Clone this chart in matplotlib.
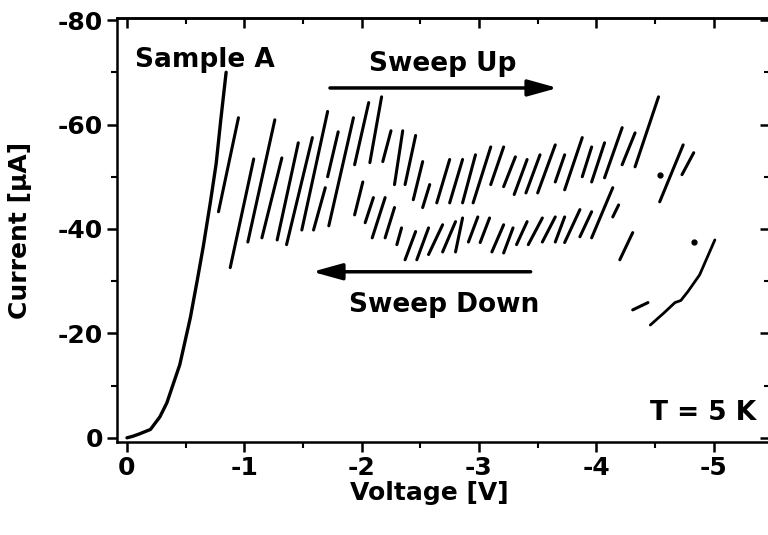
import matplotlib
matplotlib.use('agg')
import matplotlib.pyplot as plt
from matplotlib.ticker import MultipleLocator

plt.rcParams['font.family'] = ['DejaVu Sans']
plt.rcParams['font.weight'] = 'bold'
plt.rcParams['axes.unicode_minus'] = False

# main I-V curve of sample A (V in volts, I in microamps)
curve_v = [0.0, -0.05, -0.10, -0.20, -0.28, -0.34, -0.45, -0.54, -0.60, -0.65, -0.71, -0.76, -0.80, -0.845]
curve_i = [0.0, -0.3, -0.7, -1.6, -4.0, -6.7, -14.0, -23.0, -30.3, -36.6, -45.0, -52.5, -61.0, -70.0]

# switching branches, each as (V start, I start, V end, I end)
upper_segments = [
    (-0.78, -43.3, -0.95, -61.3),
    (-0.88, -32.6, -1.08, -53.4),
    (-1.03, -37.5, -1.26, -60.9),
    (-1.15, -38.3, -1.32, -53.6),
    (-1.28, -37.9, -1.46, -56.5),
    (-1.36, -37.0, -1.58, -57.5),
    (-1.49, -39.8, -1.71, -62.5),
    (-1.71, -50.0, -1.80, -58.6),
    (-1.72, -40.6, -1.93, -61.3),
    (-1.94, -52.3, -2.06, -64.2),
    (-2.07, -52.7, -2.17, -65.3),
    (-2.18, -52.9, -2.25, -58.8),
    (-2.28, -48.5, -2.35, -58.8),
    (-2.37, -48.5, -2.46, -57.9),
    (-2.44, -45.6, -2.52, -52.9),
    (-2.52, -44.1, -2.58, -48.5),
    (-2.64, -45.0, -2.75, -53.3),
    (-2.75, -45.0, -2.86, -53.3),
    (-2.86, -45.0, -2.97, -54.2),
    (-2.95, -45.0, -3.10, -55.7),
    (-3.10, -48.5, -3.21, -55.7),
    (-3.21, -48.1, -3.31, -53.8),
    (-3.30, -46.6, -3.41, -53.3),
    (-3.40, -46.9, -3.52, -54.2),
    (-3.50, -46.9, -3.65, -56.1),
    (-3.65, -49.0, -3.73, -54.2),
    (-3.73, -47.5, -3.88, -57.5),
    (-3.88, -50.0, -3.96, -55.7),
    (-3.96, -49.0, -4.07, -56.5),
    (-4.07, -49.8, -4.22, -59.4),
    (-4.22, -52.3, -4.33, -58.4),
    (-4.33, -51.9, -4.53, -65.3),
    (-4.54, -45.2, -4.74, -56.1),
    (-4.73, -50.4, -4.83, -54.6),
]

lower_segments = [
    (-1.59, -39.8, -1.69, -47.9),
    (-1.94, -42.7, -2.01, -49.0),
    (-2.03, -41.2, -2.10, -46.0),
    (-2.09, -38.3, -2.20, -46.0),
    (-2.20, -38.3, -2.28, -44.1),
    (-2.30, -37.0, -2.34, -40.2),
    (-2.37, -34.1, -2.46, -39.5),
    (-2.47, -34.1, -2.57, -40.2),
    (-2.57, -35.1, -2.69, -40.8),
    (-2.69, -35.6, -2.80, -41.4),
    (-2.80, -35.6, -2.86, -42.1),
    (-2.91, -37.5, -2.99, -42.3),
    (-3.01, -37.4, -3.09, -42.1),
    (-3.11, -35.6, -3.21, -40.8),
    (-3.21, -35.4, -3.29, -40.2),
    (-3.32, -37.0, -3.41, -41.4),
    (-3.42, -37.0, -3.54, -42.1),
    (-3.54, -37.5, -3.65, -42.3),
    (-3.65, -37.5, -3.73, -42.3),
    (-3.73, -37.4, -3.86, -43.7),
    (-3.86, -38.5, -3.96, -43.3),
    (-3.96, -38.3, -4.14, -47.9),
    (-4.14, -42.3, -4.19, -44.6),
    (-4.20, -34.1, -4.31, -39.3),
    (-4.31, -24.5, -4.44, -25.9),
]

# last branch at high bias
tail_v = [-4.46, -4.58, -4.67, -4.72, -4.78, -4.88, -5.01]
tail_i = [-21.6, -24.0, -25.9, -26.3, -28.0, -31.2, -37.9]

dots_v = [-4.54, -4.83]
dots_i = [-50.4, -37.5]

fig = plt.figure(figsize=(7.68, 5.35), dpi=100)
ax = fig.add_axes([117 / 768, 93 / 535, 653 / 768, 424 / 535])

ax.plot(curve_v, curve_i, color='black', lw=2.4, solid_capstyle='round')
for v0, i0, v1, i1 in upper_segments + lower_segments:
    ax.plot([v0, v1], [i0, i1], color='black', lw=2.2, solid_capstyle='round')
ax.plot(tail_v, tail_i, color='black', lw=2.0, solid_capstyle='round')
ax.plot(dots_v, dots_i, 'o', color='black', ms=3.5)

ax.set_xlim(0.085, -5.48)
ax.set_ylim(0.8, -80.4)

ax.xaxis.set_major_locator(MultipleLocator(1))
ax.xaxis.set_minor_locator(MultipleLocator(0.5))
ax.yaxis.set_major_locator(MultipleLocator(20))
ax.yaxis.set_minor_locator(MultipleLocator(10))
ax.tick_params(which='major', direction='out', length=7, width=1.8, labelsize=18, pad=3)
ax.tick_params(which='minor', direction='out', length=4, width=1.5)

top = ax.secondary_xaxis('top')
top.xaxis.set_major_locator(MultipleLocator(1))
top.xaxis.set_minor_locator(MultipleLocator(0.5))
top.tick_params(which='major', direction='in', length=7, width=1.8, labeltop=False)
top.tick_params(which='minor', direction='in', length=4, width=1.5)
right = ax.secondary_yaxis('right')
right.yaxis.set_major_locator(MultipleLocator(20))
right.yaxis.set_minor_locator(MultipleLocator(10))
right.tick_params(which='major', direction='in', length=7, width=1.8, labelright=False)
right.tick_params(which='minor', direction='in', length=4, width=1.5)

for sp in list(ax.spines.values()) + [top.spines['top'], right.spines['right']]:
    sp.set_linewidth(1.8)

ax.set_xlabel('Voltage [V]', fontsize=18, fontweight='bold')
ax.xaxis.set_label_coords(0.478, -0.093)
ax.set_ylabel('Current [µA]', fontsize=18, fontweight='bold', va='center')
ax.yaxis.set_label_coords(-0.148, 0.5)

ax.text(-0.07, -72.4, 'Sample A', fontsize=19, ha='left', va='center')
ax.text(-2.69, -71.5, 'Sweep Up', fontsize=19, ha='center', va='center')
ax.text(-2.70, -25.5, 'Sweep Down', fontsize=19, ha='center', va='center')
ax.text(-4.91, -4.8, 'T = 5 K', fontsize=19, ha='center', va='center')

arrow = dict(arrowstyle='-|>,head_length=1.8,head_width=0.5', lw=2.5, color='black',
             shrinkA=0, shrinkB=0)
ax.annotate('', xy=(-3.67, -67.0), xytext=(-1.73, -67.0), arrowprops=arrow)
ax.annotate('', xy=(-1.58, -31.8), xytext=(-3.44, -31.8), arrowprops=arrow)

fig.savefig('out.png', dpi=100)
